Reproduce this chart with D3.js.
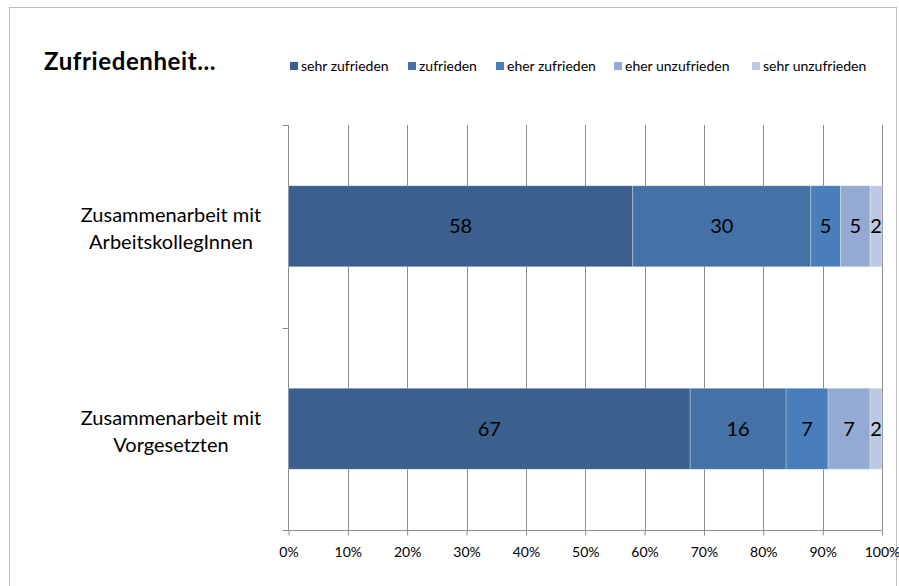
<!DOCTYPE html>
<html>
<head>
<meta charset="utf-8">
<script src="https://cdn.jsdelivr.net/npm/d3@7"></script>
<style>
  body { margin: 0; background: #fff; }
  text { font-family: Lato, "Open Sans", sans-serif; fill: #000; }
</style>
</head>
<body>
<script>
// data
var categories = [["Zusammenarbeit mit", "ArbeitskollegInnen"], ["Zusammenarbeit mit", "Vorgesetzten"]]
var seriesNames = ["sehr zufrieden", "zufrieden", "eher zufrieden", "eher unzufrieden", "sehr unzufrieden"]
var kollegen = [58, 30, 5, 5, 2]
var vorgesetzte = [67, 16, 7, 7, 2]
var tickValues = [0, 0.1, 0.2, 0.3, 0.4, 0.5, 0.6, 0.7, 0.8, 0.9, 1]
var colors = ["#3b608e", "#4472a6", "#4a7ebb", "#95aad2", "#bcc9e3"]

var rows = [kollegen, vorgesetzte]

var svg = d3.select("body").append("svg")
    .attr("width", 899)
    .attr("height", 586)

// chart border
svg.append("rect")
    .attr("x", 9.5).attr("y", 7.5)
    .attr("width", 887).attr("height", 600)
    .style("fill", "none").style("stroke", "#bdbdbd")

var plot = {left: 288.5, right: 882, top: 125, bottom: 530}

var x = d3.scaleLinear().domain([0, 1]).range([plot.left, plot.right])
var y = d3.scaleBand().domain([0, 1]).range([plot.top, plot.bottom]).paddingInner(0.6).paddingOuter(0.3)

// vertical gridlines
svg.append("g")
    .selectAll("line")
    .data(tickValues.slice(1))
    .enter().append("line")
    .attr("x1", function(d){ return Math.round(x(d)) + 0.5 })
    .attr("x2", function(d){ return Math.round(x(d)) + 0.5 })
    .attr("y1", plot.top).attr("y2", plot.bottom)
    .style("stroke", "#8c8c8c")

// x axis
var xAxis = svg.append("g")
    .attr("transform", "translate(0," + (plot.bottom + 0.5) + ")")
    .call(d3.axisBottom(x).tickValues(tickValues).tickFormat(d3.format(".0%")).tickSize(5).tickPadding(12))
xAxis.select(".domain").attr("d", "M" + (plot.left - 6) + ",0H" + plot.right).style("stroke", "#8c8c8c")
xAxis.selectAll(".tick line").style("stroke", "#8c8c8c")
xAxis.selectAll(".tick text").style("font-size", "14px")

// y axis: line with ticks between categories
var yg = svg.append("g")
yg.append("line")
    .attr("x1", plot.left).attr("x2", plot.left)
    .attr("y1", plot.top).attr("y2", plot.bottom)
    .style("stroke", "#8c8c8c")
yg.selectAll(".ytick")
    .data([plot.top, (plot.top + plot.bottom) / 2])
    .enter().append("line")
    .attr("x1", plot.left - 6).attr("x2", plot.left)
    .attr("y1", function(d){ return Math.round(d) + 0.5 })
    .attr("y2", function(d){ return Math.round(d) + 0.5 })
    .style("stroke", "#8c8c8c")

// category labels
categories.forEach(function(lines, i){
    var cy = y(i) + y.bandwidth() / 2
    var t = svg.append("text")
        .attr("x", 171)
        .attr("y", cy - 4)
        .attr("text-anchor", "middle")
        .style("font-size", "20px")
    lines.forEach(function(l, j){
        t.append("tspan").attr("x", 171).attr("dy", j == 0 ? 0 : 27).text(l)
    })
})

// stacked 100% bars
rows.forEach(function(vals, i){
    var total = d3.sum(vals)
    var acc = 0
    var g = svg.append("g")
    vals.forEach(function(v, k){
        var x0 = x(acc / total)
        var x1 = x((acc + v) / total)
        g.append("rect")
            .attr("x", x0).attr("y", y(i))
            .attr("width", x1 - x0).attr("height", y.bandwidth())
            .style("fill", colors[k])
            .style("stroke", "rgba(255,255,255,0.35)")
            .style("stroke-width", 0.8)
        g.append("text")
            .attr("x", (x0 + x1) / 2)
            .attr("y", y(i) + y.bandwidth() / 2)
            .attr("dy", "0.35em")
            .attr("text-anchor", "middle")
            .style("font-size", "20px")
            .text(v)
        acc = acc + v
    })
})

// title
svg.append("text")
    .attr("x", 44).attr("y", 70)
    .style("font-size", "24px")
    .style("font-weight", "bold")
    .style("letter-spacing", "0.6px")
    .text("Zufriedenheit...")

// legend
var legendX = [290, 408, 496, 614, 752]
var legend = svg.append("g")
seriesNames.forEach(function(name, k){
    legend.append("rect")
        .attr("x", legendX[k]).attr("y", 62)
        .attr("width", 8).attr("height", 8)
        .style("fill", colors[k])
    legend.append("text")
        .attr("x", legendX[k] + 11).attr("y", 66)
        .attr("dy", "0.35em")
        .style("font-size", "14px")
        .text(name)
})
</script>
</body>
</html>
